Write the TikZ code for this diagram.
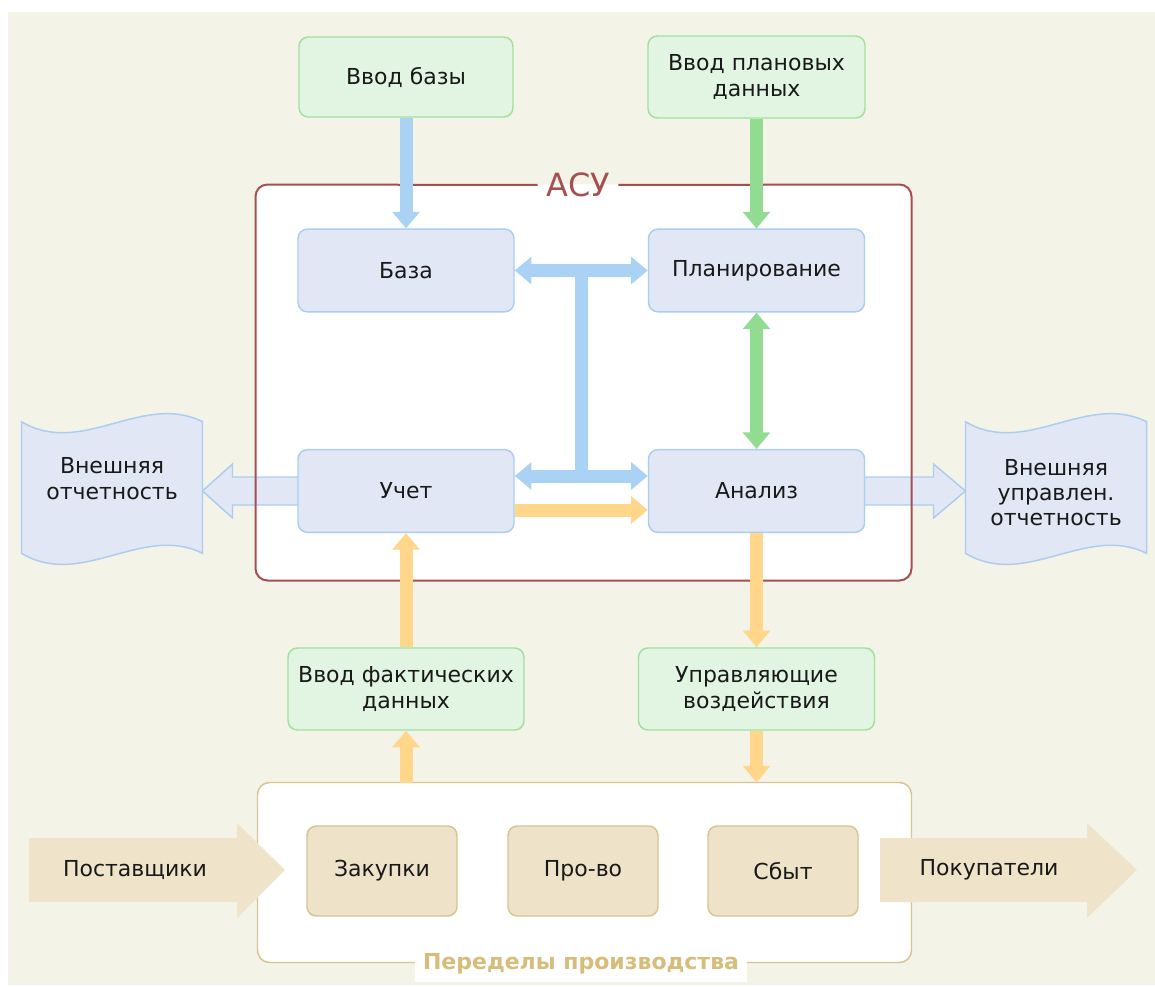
\documentclass[tikz,border=0pt]{standalone}
\usepackage{fontspec}
\setmainfont{DejaVu Sans}
\usetikzlibrary{arrows.meta,calc,backgrounds}

\definecolor{bgcol}{RGB}{244,243,232}
\definecolor{asured}{RGB}{165,80,80}
\definecolor{bluefill}{RGB}{225,231,244}
\definecolor{blueline}{RGB}{170,205,240}
\definecolor{greenfill}{RGB}{226,244,226}
\definecolor{greenline}{RGB}{160,225,160}
\definecolor{tanfill}{RGB}{238,227,200}
\definecolor{tanline}{RGB}{215,196,145}
\definecolor{tanarr}{RGB}{239,228,202}
\definecolor{tantitle}{RGB}{214,189,122}
\definecolor{bluearr}{RGB}{170,210,245}
\definecolor{greenarr}{RGB}{145,220,145}
\definecolor{orangearr}{RGB}{255,214,138}
\definecolor{txt}{RGB}{25,25,25}

\tikzset{every picture/.style={line width=0.75pt}}
\tikzset{
  basebox/.style={rounded corners=7pt, line width=1.1pt, align=center, text=txt,
    font=\fontsize{16.5}{19}\selectfont, inner sep=0pt},
  bluebox/.style={basebox, draw=blueline, fill=bluefill, minimum width=162pt, minimum height=62pt},
  greenbox/.style={basebox, draw=greenline, fill=greenfill},
  tanbox/.style={basebox, draw=tanline, fill=tanfill, minimum width=112.5pt, minimum height=67.5pt},
  docnode/.style={inner sep=0pt, minimum width=135pt, minimum height=98pt},
  doctext/.style={align=center, text=txt, font=\fontsize{16.5}{19}\selectfont, inner sep=0pt},
  docline/.style={draw=blueline, fill=bluefill, line width=1.1pt},
  hollow/.style={draw=blueline, fill=bluefill, line width=1.1pt},
  flow/.style={line width=9.75pt, -{Triangle[width=20pt,length=12.5pt]}},
  flowboth/.style={line width=9.75pt, {Triangle[width=20pt,length=12.5pt]}-{Triangle[width=20pt,length=12.5pt]}},
  frame/.style={inner sep=0pt}
}

% wavy document sheet round a named node
\newcommand{\docwave}[1]{%
  \draw[docline] (#1.north west) .. controls ($(#1.north west)+(60,36)$) and ($(#1.north east)+(-60,-30)$) .. (#1.north east)
    -- (#1.south east) .. controls ($(#1.south east)+(-60,-30)$) and ($(#1.south west)+(60,36)$) .. (#1.south west) -- cycle;}

\begin{document}
\begin{tikzpicture}[x=0.75pt,y=0.75pt,yscale=-1,xscale=1]
\useasboundingbox (0,0) rectangle (1155,987);

%Frames
\node[frame, minimum width=491.25pt, minimum height=296.25pt] (asu) at (583.5,382.5) {};
\node[frame, minimum width=489.75pt, minimum height=134.25pt] (pered) at (584.5,872.5) {};
\node[text=asured, font=\fontsize{24}{28}\selectfont, inner xsep=6pt, inner ysep=0pt] (asutitle) at (578,185) {АСУ};

%Blue boxes
\node[bluebox] (baza) at (406,270.5) {База};
\node[bluebox] (plan) at (756.5,270.5) {Планирование};
\node[bluebox] (uchet) at (406,491) {Учет};
\node[bluebox] (analiz) at (756.5,491) {Анализ};

%Green boxes
\node[greenbox, minimum width=160.5pt, minimum height=60pt] (vvodbaza) at (406,77) {Ввод базы};
\node[greenbox, minimum width=162.75pt, minimum height=61.5pt] (vvodplan) at (756.5,77) {Ввод плановых\\данных};
\node[greenbox, minimum width=177pt, minimum height=61.5pt] (vvodfakt) at (406,689) {Ввод фактических\\данных};
\node[greenbox, minimum width=177pt, minimum height=61.5pt] (upr) at (756.5,689) {Управляющие\\воздействия};

%Production
\node[tanbox] (zakup) at (382,871) {Закупки};
\node[tanbox] (proizv) at (583,871) {Про-во};
\node[tanbox] (sbyt) at (783,871) {Сбыт};
\node[fill=white, text=tantitle, font=\bfseries\fontsize{16.5}{19}\selectfont, inner xsep=6pt, inner ysep=6pt] (peretitle) at (581,964) {Переделы производства};

%Documents
\node[docnode] (otch) at (112,487.5) {};
\node[docnode] (uprotch) at (1056,487.5) {};
\node[doctext] (otchtext) at ($(otch)+(0,-9)$) {Внешняя\\отчетность};
\node[doctext] (uprotchtext) at ($(uprotch)+(0,5)$) {Внешняя\\управлен.\\отчетность};

%Suppliers / customers
\node[text=txt, font=\fontsize{16.5}{19}\selectfont] (postav) at (135,870) {Поставщики};
\node[text=txt, font=\fontsize{16.5}{19}\selectfont] (pokup) at (989,870) {Покупатели};

\coordinate (otchtip) at (otch.east |- uchet.west);
\coordinate (uprtip) at (uprotch.west |- analiz.east);
\coordinate (tjoin) at ($(uchet.east)!0.5!(analiz.west)$);

\begin{scope}[on background layer]
  \fill[white] (0,0) rectangle (1155,987);
  \fill[bgcol] (8,12) rectangle (1155,985);
  \fill[white, rounded corners=9pt] (asu.north west) rectangle (asu.south east);
  \draw[tanline, fill=white, line width=1.1pt, rounded corners=9pt] (pered.north west) rectangle (pered.south east);
  % hollow arrows to reports
  \draw[hollow] ($(uchet.west)+(10,-14)$) -- ($(otchtip)+(30,-14)$) -- ($(otchtip)+(30,-27)$) -- (otchtip)
    -- ($(otchtip)+(30,27)$) -- ($(otchtip)+(30,14)$) -- ($(uchet.west)+(10,14)$) -- cycle;
  \draw[hollow] ($(analiz.east)+(-10,-14)$) -- ($(uprtip)+(-32,-14)$) -- ($(uprtip)+(-32,-27)$) -- (uprtip)
    -- ($(uprtip)+(-32,27)$) -- ($(uprtip)+(-32,14)$) -- ($(analiz.east)+(-10,14)$) -- cycle;
  \draw[asured, line width=1.5pt, rounded corners=9pt] (asutitle.east) -- (asu.north east) -- (asu.south east)
    -- (asu.south west) -- (asu.north west) -- (asutitle.west);
  % wavy sheets
  \docwave{otch}
  \docwave{uprotch}
  % big arrows
  \fill[tanarr] (29,838) -- (237,838) -- (237,823) -- (285,870) -- (237,918) -- (237,902) -- (29,902) -- cycle;
  \fill[tanarr] (880,838) -- (1087,838) -- (1087,823) -- (1137,870) -- (1087,918) -- (1087,902) -- (880,902) -- cycle;
\end{scope}

%Connectors
\draw[flow, bluearr] (vvodbaza) -- (baza);
\draw[flow, greenarr] (vvodplan) -- (plan);
\draw[flowboth, greenarr] (plan) -- (analiz);
\draw[line width=9.75pt, bluearr] ($(baza.east)!0.5!(plan.west)$) -- ($(tjoin)+(0,-15)$);
\draw[flowboth, bluearr] (baza) -- (plan);
\draw[flowboth, bluearr] ($(uchet.east)+(0,-15)$) -- ($(analiz.west)+(0,-15)$);
\draw[flow, orangearr] ($(uchet.east)+(0,19)$) -- ($(analiz.west)+(0,19)$);
\draw[flow, orangearr] (vvodfakt) -- (uchet);
\draw[flow, orangearr] (vvodfakt.south |- pered.north) -- (vvodfakt);
\draw[flow, orangearr] (analiz) -- (upr);
\draw[flow, orangearr] (upr) -- (upr.south |- pered.north);
\end{tikzpicture}
\end{document}
